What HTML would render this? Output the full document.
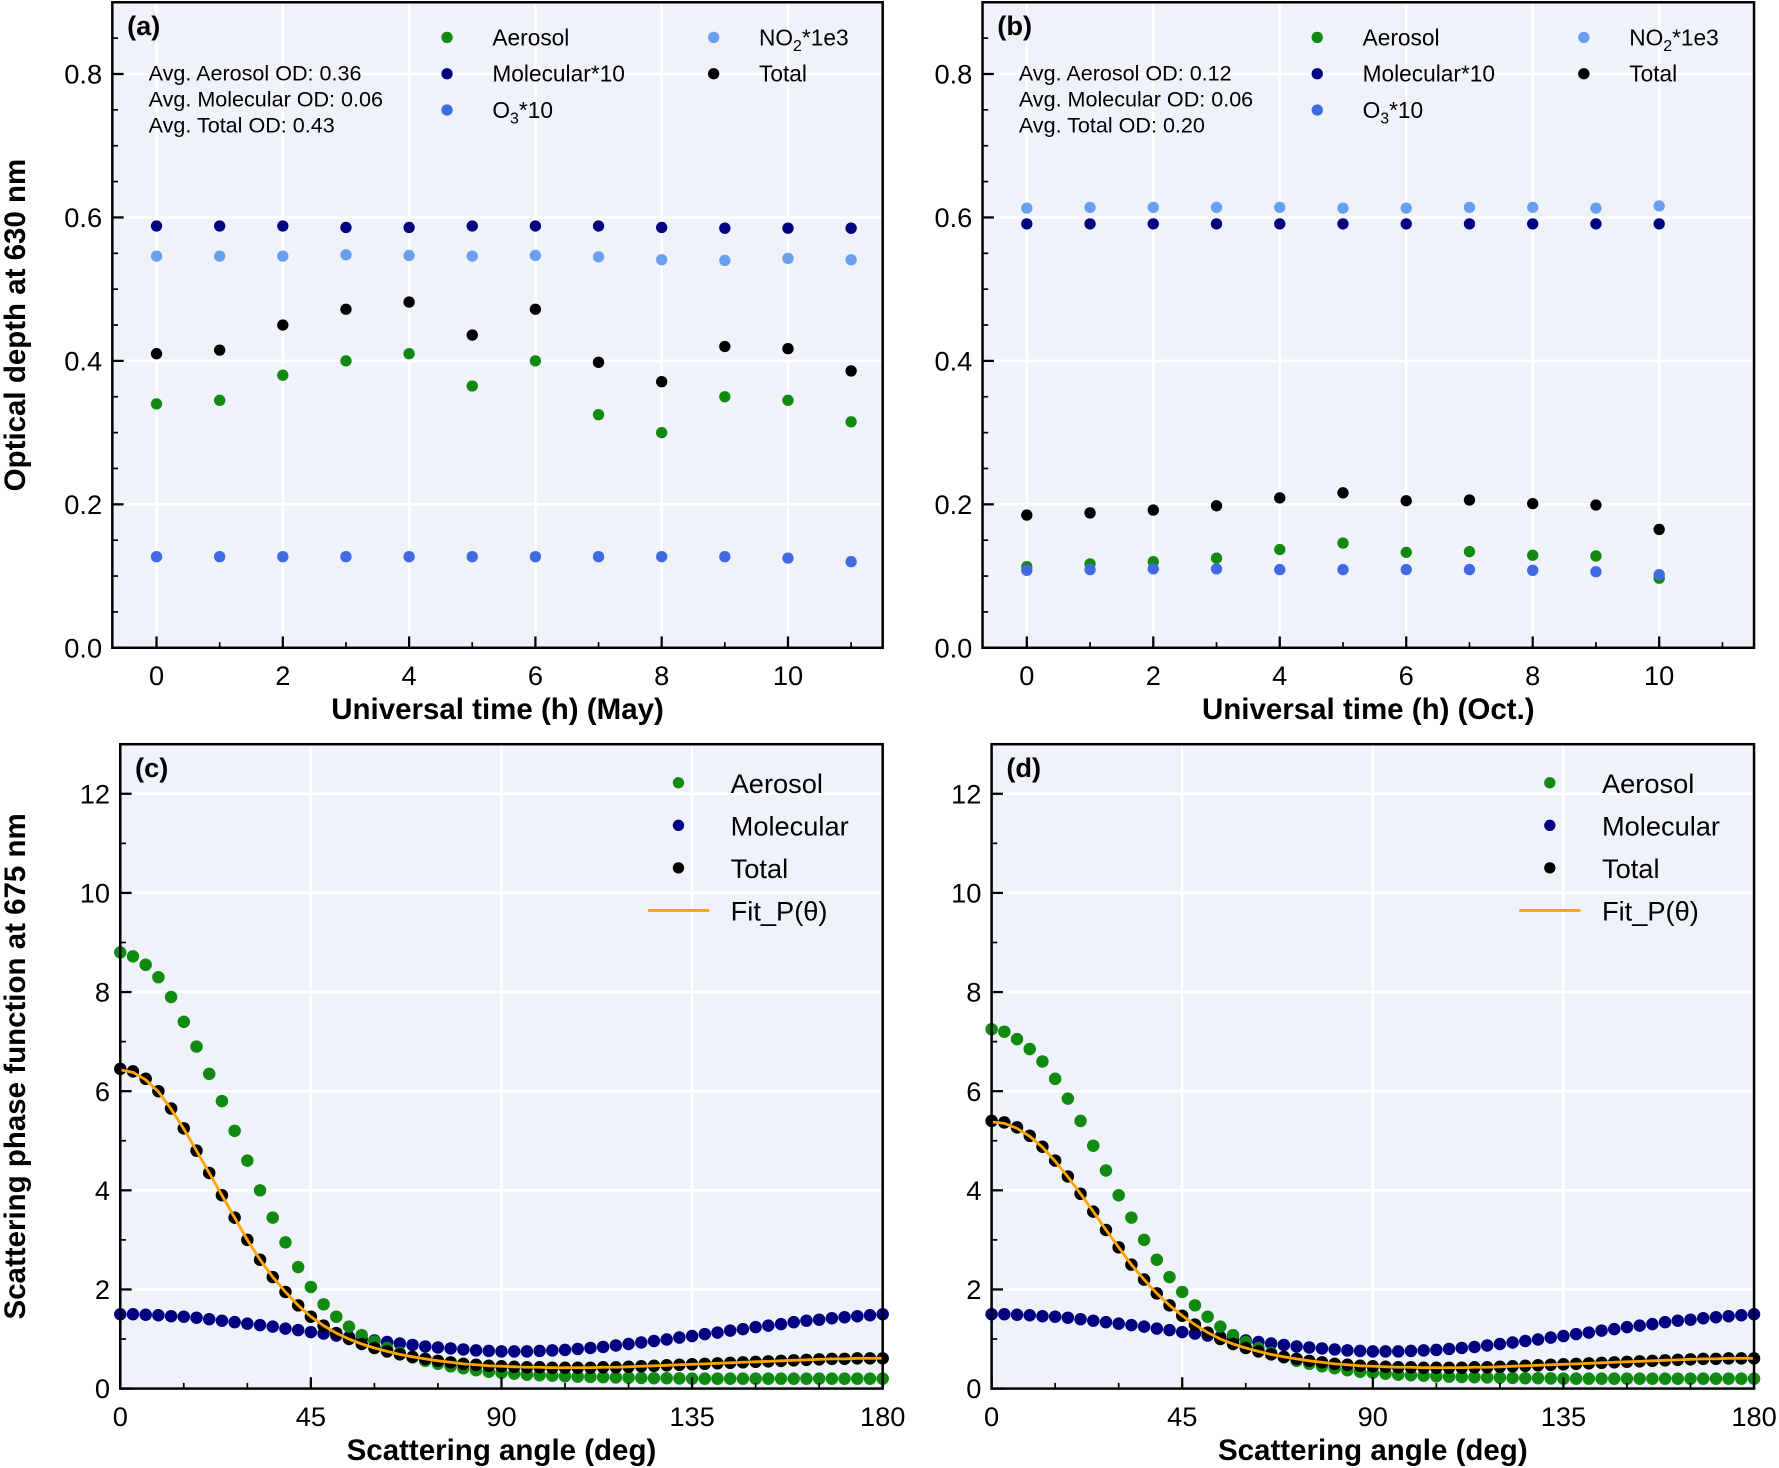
<!DOCTYPE html>
<html><head><meta charset="utf-8"><style>
html,body{margin:0;padding:0;background:#fff;}
svg{display:block;font-family:"Liberation Sans",Arial,sans-serif;}
</style></head><body>
<svg id="fig" width="1779" height="1468" viewBox="0 0 1568 1294" preserveAspectRatio="none" xmlns="http://www.w3.org/2000/svg"></svg>
<script>
// ---------- data ----------
const hoursA = [0,1,2,3,4,5,6,7,8,9,10,11];
const aerosolA = [0.34,0.345,0.38,0.40,0.41,0.365,0.40,0.325,0.30,0.35,0.345,0.315];
const totalA = [0.41,0.415,0.45,0.472,0.482,0.436,0.472,0.398,0.371,0.42,0.417,0.386];
const molecularA = [0.588,0.588,0.588,0.586,0.586,0.588,0.588,0.588,0.586,0.585,0.585,0.585];
const no2A = [0.546,0.546,0.546,0.548,0.547,0.546,0.547,0.545,0.541,0.540,0.543,0.541];
const o3A = [0.127,0.127,0.127,0.127,0.127,0.127,0.127,0.127,0.127,0.127,0.125,0.12];

const hoursB = [0,1,2,3,4,5,6,7,8,9,10];
const no2B = [0.613,0.614,0.614,0.614,0.614,0.613,0.613,0.614,0.614,0.613,0.616];
const molecularB = [0.591,0.591,0.591,0.591,0.591,0.591,0.591,0.591,0.591,0.591,0.591];
const totalB = [0.185,0.188,0.192,0.198,0.209,0.216,0.205,0.206,0.201,0.199,0.165];
const aerosolB = [0.113,0.117,0.12,0.125,0.137,0.146,0.133,0.134,0.129,0.128,0.097];
const o3B = [0.108,0.109,0.11,0.11,0.109,0.109,0.109,0.109,0.108,0.106,0.102];

const angles = [0,3,6,9,12,15,18,21,24,27,30,33,36,39,42,45,48,51,54,57,60,63,66,69,72,75,78,81,84,87,90,93,96,99,102,105,108,111,114,117,120,123,126,129,132,135,138,141,144,147,150,153,156,159,162,165,168,171,174,177,180];
const aerosolC = [8.8,8.72,8.55,8.3,7.9,7.4,6.9,6.35,5.8,5.2,4.6,4.0,3.45,2.95,2.45,2.05,1.7,1.45,1.25,1.08,0.95,0.82,0.72,0.63,0.56,0.5,0.45,0.41,0.37,0.34,0.32,0.3,0.28,0.27,0.26,0.25,0.24,0.235,0.23,0.225,0.22,0.215,0.21,0.21,0.205,0.2,0.2,0.2,0.2,0.2,0.2,0.2,0.2,0.2,0.2,0.2,0.2,0.2,0.2,0.2,0.2];
const totalC = [6.45,6.4,6.25,6.0,5.65,5.25,4.8,4.35,3.9,3.45,3.0,2.6,2.25,1.95,1.68,1.45,1.27,1.12,1.0,0.9,0.82,0.75,0.69,0.64,0.6,0.56,0.53,0.5,0.48,0.46,0.45,0.44,0.43,0.43,0.42,0.42,0.42,0.42,0.43,0.43,0.44,0.45,0.46,0.47,0.48,0.49,0.5,0.51,0.52,0.53,0.54,0.55,0.56,0.57,0.58,0.59,0.6,0.6,0.61,0.61,0.61];
const molecularC = [1.5,1.5,1.49,1.48,1.46,1.45,1.43,1.4,1.37,1.34,1.31,1.28,1.25,1.21,1.18,1.14,1.11,1.07,1.04,1.0,0.97,0.94,0.91,0.88,0.85,0.83,0.81,0.79,0.77,0.76,0.75,0.75,0.75,0.76,0.77,0.78,0.8,0.82,0.84,0.87,0.9,0.93,0.96,0.99,1.03,1.06,1.1,1.13,1.17,1.2,1.24,1.27,1.3,1.34,1.37,1.39,1.42,1.44,1.46,1.48,1.5];
const fitC = [6.43,6.38,6.23,5.99,5.64,5.24,4.8,4.35,3.9,3.45,3.0,2.6,2.25,1.95,1.68,1.45,1.27,1.12,1.0,0.9,0.82,0.75,0.69,0.64,0.6,0.56,0.53,0.5,0.48,0.46,0.45,0.44,0.43,0.43,0.42,0.42,0.42,0.42,0.43,0.43,0.44,0.45,0.46,0.47,0.48,0.49,0.5,0.51,0.52,0.53,0.54,0.55,0.56,0.57,0.58,0.59,0.6,0.6,0.61,0.61,0.61];
const aerosolD = [7.25,7.2,7.05,6.85,6.6,6.25,5.85,5.4,4.9,4.4,3.9,3.45,3.0,2.6,2.25,1.95,1.68,1.45,1.25,1.08,0.94,0.82,0.72,0.63,0.56,0.5,0.45,0.41,0.37,0.34,0.32,0.3,0.28,0.27,0.26,0.25,0.24,0.235,0.23,0.225,0.22,0.215,0.21,0.21,0.205,0.2,0.2,0.2,0.2,0.2,0.2,0.2,0.2,0.2,0.2,0.2,0.2,0.2,0.2,0.2,0.2];
const totalD = [5.4,5.37,5.27,5.1,4.88,4.6,4.28,3.93,3.57,3.2,2.85,2.5,2.2,1.92,1.68,1.47,1.29,1.13,1.0,0.9,0.82,0.75,0.69,0.64,0.6,0.56,0.53,0.5,0.48,0.46,0.45,0.44,0.43,0.43,0.42,0.42,0.42,0.42,0.43,0.43,0.44,0.45,0.46,0.47,0.48,0.49,0.5,0.51,0.52,0.53,0.54,0.55,0.56,0.57,0.58,0.59,0.6,0.6,0.61,0.61,0.61];
const molecularD = molecularC.slice();
const fitD = [5.38,5.35,5.25,5.09,4.87,4.59,4.27,3.93,3.57,3.2,2.85,2.5,2.2,1.92,1.68,1.47,1.29,1.13,1.0,0.9,0.82,0.75,0.69,0.64,0.6,0.56,0.53,0.5,0.48,0.46,0.45,0.44,0.43,0.43,0.42,0.42,0.42,0.42,0.43,0.43,0.44,0.45,0.46,0.47,0.48,0.49,0.5,0.51,0.52,0.53,0.54,0.55,0.56,0.57,0.58,0.59,0.6,0.6,0.61,0.61,0.61];

const yTicksTop = ["0.0","0.2","0.4","0.6","0.8"];
const xTicksTop = ["0","2","4","6","8","10"];
const yTicksBot = ["0","2","4","6","8","10","12"];
const xTicksBot = ["0","45","90","135","180"];

const GREEN="#108a10", NAVY="#000080", O3C="#4169e1", NO2C="#6a9ff0", BLACK="#000", ORANGE="#ffa500";
const NS="http://www.w3.org/2000/svg";
const svg=document.getElementById('fig');
function el(tag,attrs,parent){const e=document.createElementNS(NS,tag);for(const k in attrs)e.setAttribute(k,attrs[k]);(parent||svg).appendChild(e);return e;}
function txt(s,attrs,parent){const e=el('text',attrs,parent);e.textContent=s;return e;}

function panel(cfg){
  const g=el('g',{});
  
  
  const {L,R,T,B,xmin,xmax,ymin,ymax}=cfg;
  const sx=v=>L+(v-xmin)/(xmax-xmin)*(R-L);
  const sy=v=>B-(v-ymin)/(ymax-ymin)*(B-T);
  const bg=el('rect',{x:L,y:T,width:R-L,height:B-T,fill:'#eff3f9'},g);
  
  
  cfg.xMajor.forEach(v=>{el('line',{x1:sx(v),x2:sx(v),y1:T,y2:B,stroke:'#fff','stroke-width':2.2},g);});
  cfg.yMajor.forEach(v=>{el('line',{x1:L,x2:R,y1:sy(v),y2:sy(v),stroke:'#fff','stroke-width':2.2},g);});
  cfg.series.forEach(s=>{
    const sg=el('g',{},g);
    
    
    if(s.line){
      const pts=s.x.map((xv,i)=>sx(xv).toFixed(1)+','+sy(s.y[i]).toFixed(1)).join(' ');
      el('polyline',{points:pts,fill:'none',stroke:s.color,'stroke-width':2.5},sg);
    } else {
      s.x.forEach((xv,i)=>{const c=el('circle',{cx:sx(xv),cy:sy(s.y[i]),r:s.r||5,fill:s.color},sg);
        
        });
    }
  });
  cfg.xMinor.forEach(v=>el('line',{x1:sx(v),x2:sx(v),y1:B,y2:B-5,stroke:'#000','stroke-width':1.5},g));
  cfg.xMajor.forEach(v=>el('line',{x1:sx(v),x2:sx(v),y1:B,y2:B-10,stroke:'#000','stroke-width':2},g));
  cfg.yMinor.forEach(v=>el('line',{x1:L,x2:L+5,y1:sy(v),y2:sy(v),stroke:'#000','stroke-width':1.5},g));
  cfg.yMajor.forEach(v=>el('line',{x1:L,x2:L+10,y1:sy(v),y2:sy(v),stroke:'#000','stroke-width':2},g));
  const fr=el('rect',{x:L,y:T,width:R-L,height:B-T,fill:'none',stroke:'#000','stroke-width':2.2},g);
  
  
  cfg.xMajor.forEach((v,i)=>{const t=txt(cfg.xLabels[i],{x:sx(v),y:B+33,'font-size':24,'text-anchor':'middle'},g);
    
    });
  cfg.yMajor.forEach((v,i)=>{const t=txt(cfg.yLabels[i],{x:L-9,y:sy(v)+8.5,'font-size':24,'text-anchor':'end'},g);
    
    });
  const pl=txt(cfg.label,{x:L+13,y:T+29,'font-size':24,'font-weight':'bold'},g);
  
  
  const xt=txt(cfg.xTitle,{x:(L+R)/2,y:B+63,'font-size':26,'font-weight':'bold','text-anchor':'middle'},g);
  
  
  if(cfg.yTitle){const yt=txt(cfg.yTitle,{x:0,y:0,'font-size':26,'font-weight':'bold','text-anchor':'middle',transform:`translate(22,${(T+B)/2}) rotate(-90)`},g);
    
    }
  return {g,sx,sy};
}
function range(a,b,s){const r=[];for(let v=a;v<=b+1e-9;v+=s)r.push(+v.toFixed(4));return r;}

function topLegend(p,L,T,avg){
  const lg=el('g',{},p.g);
  
  
  const items=[[GREEN,'Aerosol',0,0],[NAVY,'Molecular*10',0,1],[O3C,'O3',0,2],[NO2C,'NO2',1,0],[BLACK,'Total',1,1]];
  items.forEach(it=>{
    const mx=L+295+it[2]*235, my=T+31+it[3]*32;
    const e=el('g',{},lg);
    
    
    el('circle',{cx:mx,cy:my,r:5,fill:it[0]},e);
    const t=el('text',{x:mx+40,y:my+7,'font-size':20},e);
    if(it[1]==='O3'){t.innerHTML='O<tspan font-size="14" dy="5">3</tspan><tspan dy="-5">*10</tspan>';}
    else if(it[1]==='NO2'){t.innerHTML='NO<tspan font-size="14" dy="5">2</tspan><tspan dy="-5">*1e3</tspan>';}
    else t.textContent=it[1];
  });
  avg.forEach((s,i)=>{const t=txt(s,{x:L+32,y:T+69+i*23,'font-size':19},p.g);
    
    });
}
function botLegend(p,L,T){
  const lg=el('g',{},p.g);
  
  
  const items=[[GREEN,'Aerosol'],[NAVY,'Molecular'],[BLACK,'Total'],[ORANGE,'Fit_P(θ)']];
  items.forEach((it,i)=>{
    const mx=L+492, my=T+34+i*37.5;
    const e=el('g',{},lg);
    
    
    if(i===3) el('line',{x1:mx-27,x2:mx+27,y1:my,y2:my,stroke:ORANGE,'stroke-width':2.5},e);
    else el('circle',{cx:mx,cy:my,r:5,fill:it[0]},e);
    txt(it[1],{x:mx+46,y:my+9,'font-size':24},e);
  });
}

const topCommon={T:2,B:571,xmin:-0.7,xmax:11.5,ymin:0,ymax:0.9,xMajor:[0,2,4,6,8,10],xMinor:range(1,11,2),yMajor:[0,0.2,0.4,0.6,0.8],yMinor:range(0.05,0.85,0.05),xLabels:xTicksTop,yLabels:yTicksTop};
const pa=panel(Object.assign({},topCommon,{name:'panel-a',L:99,R:778,label:'(a)',xTitle:'Universal time (h) (May)',yTitle:'Optical depth at 630 nm',
  series:[{name:'no2-series',x:hoursA,y:no2A,color:NO2C},{name:'molecular-series',x:hoursA,y:molecularA,color:NAVY},{name:'total-series',x:hoursA,y:totalA,color:BLACK},{name:'aerosol-series',x:hoursA,y:aerosolA,color:GREEN},{name:'o3-series',x:hoursA,y:o3A,color:O3C}]}));
topLegend(pa,99,2,['Avg. Aerosol OD: 0.36','Avg. Molecular OD: 0.06','Avg. Total OD: 0.43']);
const pb=panel(Object.assign({},topCommon,{name:'panel-b',L:866,R:1546,label:'(b)',xTitle:'Universal time (h) (Oct.)',
  series:[{name:'no2-series',x:hoursB,y:no2B,color:NO2C},{name:'molecular-series',x:hoursB,y:molecularB,color:NAVY},{name:'total-series',x:hoursB,y:totalB,color:BLACK},{name:'aerosol-series',x:hoursB,y:aerosolB,color:GREEN},{name:'o3-series',x:hoursB,y:o3B,color:O3C}]}));
topLegend(pb,866,2,['Avg. Aerosol OD: 0.12','Avg. Molecular OD: 0.06','Avg. Total OD: 0.20']);

const botCommon={T:656,B:1224,xmin:0,xmax:180,ymin:0,ymax:13,xMajor:[0,45,90,135,180],xMinor:range(15,165,15),yMajor:[0,2,4,6,8,10,12],yMinor:range(1,13,2),xLabels:xTicksBot,yLabels:yTicksBot};
const pc=panel(Object.assign({},botCommon,{name:'panel-c',L:106,R:778,label:'(c)',xTitle:'Scattering angle (deg)',yTitle:'Scattering phase function at 675 nm',
  series:[{name:'molecular-series',x:angles,y:molecularC,color:NAVY,r:5.5},{name:'aerosol-series',x:angles,y:aerosolC,color:GREEN,r:5.5},{name:'total-series',x:angles,y:totalC,color:BLACK,r:5.5},{name:'fit-line',x:angles,y:fitC,color:ORANGE,line:true}]}));
botLegend(pc,106,656);
const pd=panel(Object.assign({},botCommon,{name:'panel-d',L:874,R:1546,label:'(d)',xTitle:'Scattering angle (deg)',
  series:[{name:'molecular-series',x:angles,y:molecularD,color:NAVY,r:5.5},{name:'aerosol-series',x:angles,y:aerosolD,color:GREEN,r:5.5},{name:'total-series',x:angles,y:totalD,color:BLACK,r:5.5},{name:'fit-line',x:angles,y:fitD,color:ORANGE,line:true}]}));
botLegend(pd,874,656);
</script>
</body></html>
